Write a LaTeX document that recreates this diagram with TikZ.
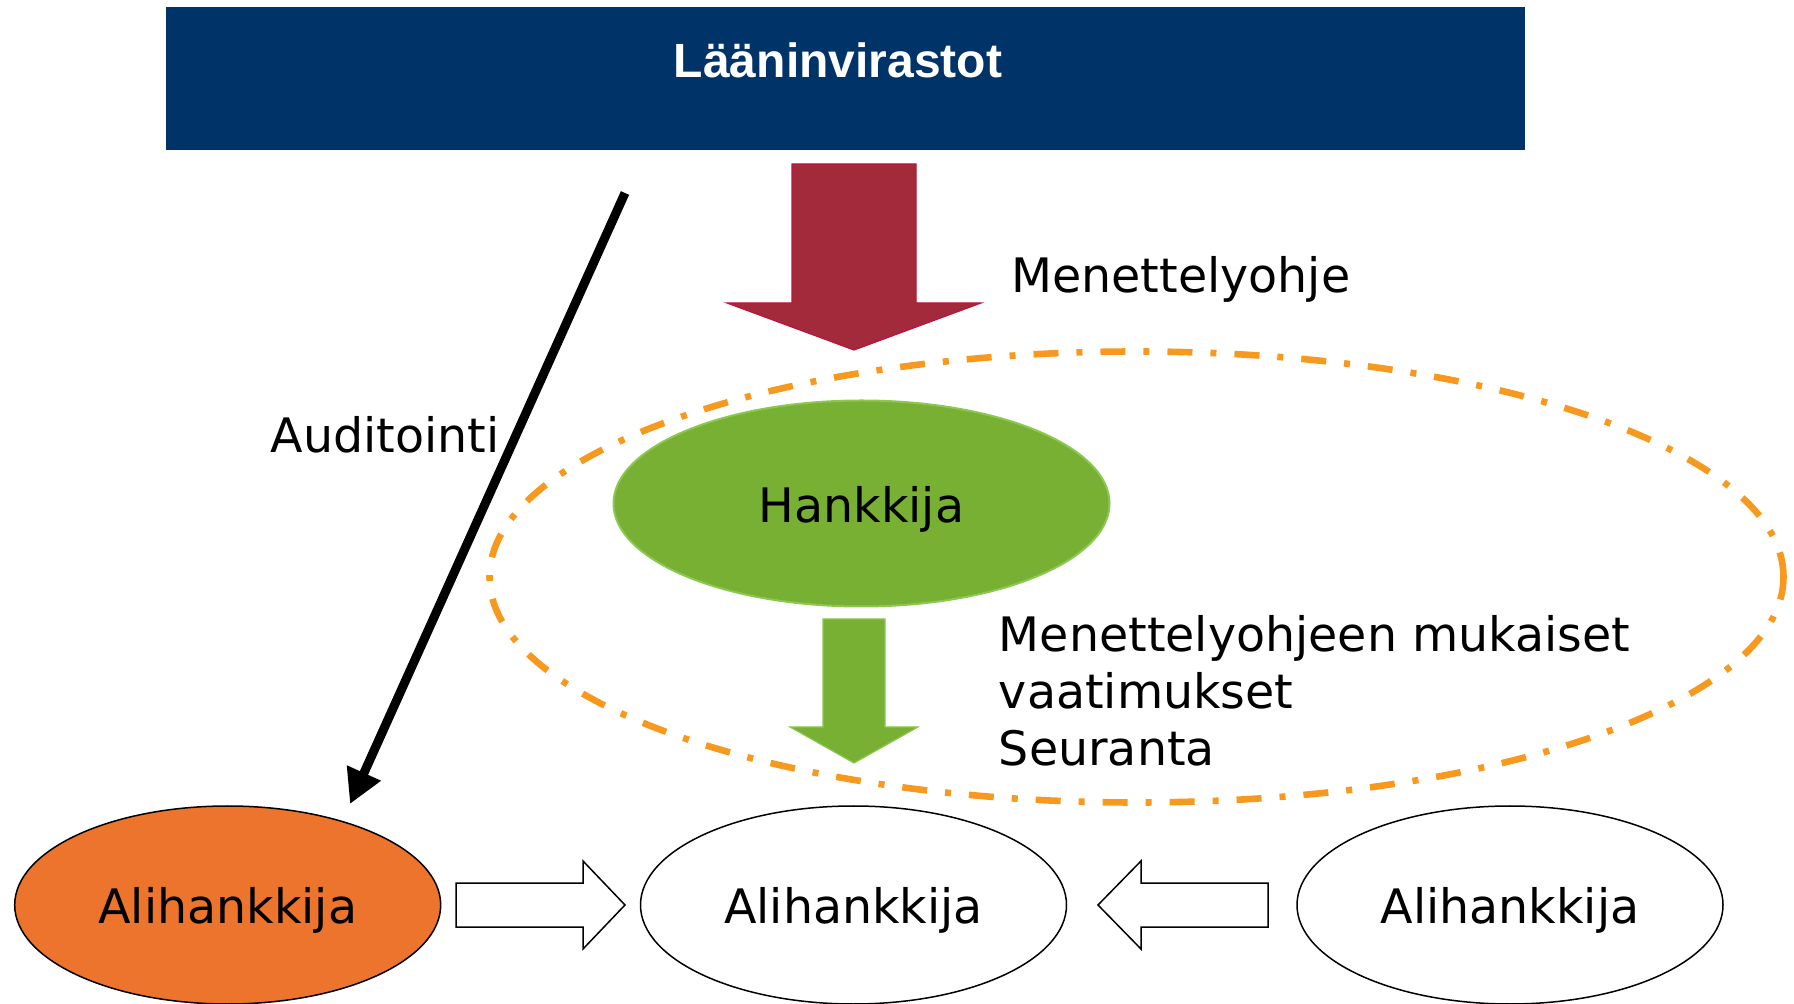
\documentclass[tikz,border=0pt]{standalone}
\usepackage{fontspec}
\setmainfont{DejaVu Sans}
\newfontfamily\titlefont{Liberation Sans}
\usetikzlibrary{shapes.geometric,arrows.meta}
\definecolor{blueT}{HTML}{003468}
\definecolor{redA}{HTML}{A22A3A}
\definecolor{redE}{HTML}{C0103F}
\definecolor{greenA}{HTML}{77B033}
\definecolor{greenE}{HTML}{8CC850}
\definecolor{orangeA}{HTML}{EC742C}
\definecolor{orangeD}{HTML}{F7991E}
\newcommand\lblfont{\fontsize{23.75pt}{28.5pt}\selectfont}
\begin{document}
\begin{tikzpicture}[x=0.5pt,y=-0.5pt,
  lbl/.style={font=\lblfont,inner sep=0pt,text=black},
  ellnode/.style={ellipse,inner sep=0pt,draw=black,line width=0.75pt,minimum width=213pt,minimum height=99pt},
  blockred/.style={fill=redA,draw=redE,line width=0.6pt,line join=miter},
  blockgreen/.style={fill=greenA,draw=greenE,line width=0.6pt,line join=miter},
  blockwhite/.style={fill=white,draw=black,line width=0.75pt,line join=miter},
  zonestyle/.style={ellipse,inner sep=0pt,draw=orangeD,line width=3.3pt,
    dash pattern=on 12.5pt off 9pt on 3pt off 9pt,minimum width=647pt,minimum height=225.5pt},
  auditarrow/.style={line width=4.5pt,-{Triangle[width=17.5pt,length=17pt]}}]
\useasboundingbox (0,0) rectangle (1794,1004);
% top box
\node[fill=blueT,inner sep=0pt,minimum width=679.5pt,minimum height=71.5pt,anchor=north west] (top) at (166,7) {};
\node[font=\titlefont\bfseries\fontsize{24pt}{28pt}\selectfont,text=white,inner sep=0pt,anchor=base] (toplabel) at (838,78) {Lääninvirastot};
% red block arrow
\draw[blockred] (792,164) -- (916,164) -- (916,303) -- (981,303) -- (854,350) -- (727,303) -- (792,303) -- cycle;
\node[lbl,anchor=base west] (menlabel) at (1011,293) {Menettelyohje};
% zone
\node[zonestyle] (zone) at (1136.5,577) {};
% Hankkija
\node[ellipse,inner sep=0pt,fill=greenA,draw=greenE,line width=1pt,minimum width=248pt,minimum height=103pt] (hank) at (861.5,503.5) {};
\node[lbl,anchor=base] (hanklabel) at (861.5,523) {Hankkija};
% green block arrow
\draw[blockgreen] (823,619) -- (885,619) -- (885,727) -- (918,727) -- (854,763) -- (790,727) -- (823,727) -- cycle;
\node[lbl,anchor=base west,align=left] (reqlabel) at (998.5,766) {Menettelyohjeen mukaiset\\vaatimukset\\Seuranta};
% bottom ellipses
\node[ellnode,fill=orangeA] (ali1) at (227.7,905) {};
\node[ellnode,fill=white] (ali2) at (853.5,905) {};
\node[ellnode,fill=white] (ali3) at (1510,905) {};
\node[lbl,anchor=base] (ali1label) at (227.7,923) {Alihankkija};
\node[lbl,anchor=base] (ali2label) at (853.5,923) {Alihankkija};
\node[lbl,anchor=base] (ali3label) at (1510,923) {Alihankkija};
% white block arrows
\draw[blockwhite] (456,883) -- (583,883) -- (583,861) -- (625,905) -- (583,949) -- (583,927) -- (456,927) -- cycle;
\draw[blockwhite] (1268,883) -- (1141,883) -- (1141,861) -- (1098,905) -- (1141,949) -- (1141,927) -- (1268,927) -- cycle;
% audit arrow
\node[lbl,anchor=base] (audlabel) at (385,453) {Auditointi};
\coordinate (audstart) at (625,193);
\coordinate (audend) at (350,804);
\draw[auditarrow] (audstart) -- (audend);
\end{tikzpicture}
\end{document}
